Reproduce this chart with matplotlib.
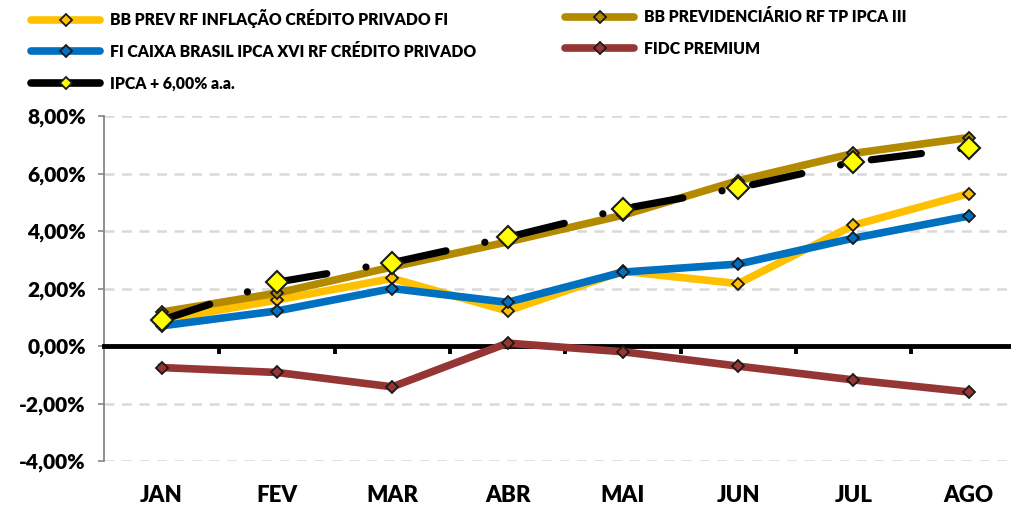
import numpy as np
import matplotlib.pyplot as plt
from matplotlib.lines import Line2D
from matplotlib.ticker import FuncFormatter

plt.rcParams['font.family'] = ['Lato', 'DejaVu Sans']
plt.rcParams['font.weight'] = 'heavy'

# data (% accumulated in the year)
months = ["JAN", "FEV", "MAR", "ABR", "MAI", "JUN", "JUL", "AGO"]
bb_prev_inflacao = [0.90, 1.60, 2.35, 1.22, 2.60, 2.17, 4.20, 5.30]
bb_previdenciario = [1.18, 1.84, 2.75, 3.62, 4.55, 5.75, 6.70, 7.25]
caixa_ipca_xvi = [0.70, 1.22, 2.00, 1.52, 2.57, 2.85, 3.75, 4.52]
fidc_premium = [-0.75, -0.92, -1.42, 0.10, -0.20, -0.70, -1.18, -1.60]
ipca_6 = [0.90, 2.22, 2.90, 3.78, 4.77, 5.50, 6.40, 6.90]

names = ["BB PREV RF INFLAÇÃO CRÉDITO PRIVADO FI",
         "BB PREVIDENCIÁRIO RF TP IPCA III",
         "FI CAIXA BRASIL IPCA XVI RF CRÉDITO PRIVADO",
         "FIDC PREMIUM",
         "IPCA + 6,00% a.a."]
colors = ["#FFC000", "#B38A00", "#0070C0", "#963634", "#000000"]

LW = 5.5     # series line width
MS = 6.2     # small diamond size
x = np.arange(len(months))

fig = plt.figure(figsize=(10.12, 5.07), dpi=100, facecolor='w')
ax = fig.add_axes([104/1012, 46/507, 1 - 104/1012, 345/507])

series = [bb_prev_inflacao, bb_previdenciario, caixa_ipca_xvi, fidc_premium]
for vals, col in zip(series, colors[:4]):
    ax.plot(x, vals, color=col, lw=LW, marker='D', ms=MS, mfc=col,
            mec='#1a1a1a', mew=1.3, solid_joinstyle='round', zorder=3)

# IPCA + 6% : long dash - dot
ax.plot(x, ipca_6, color='k', lw=5.2, ls=(0, (7.0, 5.5, 0.01, 4.3)),
        dash_capstyle='round', marker='D', ms=11.5, mfc='#FFFF00',
        mec='#1a1a1a', mew=1.5, zorder=4)

ax.set_xlim(-0.5, 7.375)
ax.set_ylim(-4, 8)
ax.set_yticks(np.arange(-4, 8.1, 2))
ax.yaxis.set_major_formatter(FuncFormatter(lambda v, p: ("%.2f%%" % v).replace('.', ',')))
ax.tick_params(axis='y', length=4, width=1.2, color='#868686', pad=9,
               labelsize=15, labelcolor='k')
ax.grid(axis='y', color='#d9d9d9', lw=1.8, ls=(0, (4, 3)), zorder=0)

for s in ['top', 'right']:
    ax.spines[s].set_visible(False)
ax.spines['left'].set_color('#868686')
ax.spines['left'].set_linewidth(1.3)
ax.spines['bottom'].set_position(('data', 0))
ax.spines['bottom'].set_linewidth(3.5)
ax.spines['bottom'].set_color('k')
ax.spines['bottom'].set_zorder(2.5)
ax.set_xticks(np.arange(0.5, len(months) - 1, 1))
ax.tick_params(axis='x', length=6, width=2.8, color='k', labelbottom=False)

for i, m in enumerate(months):
    ax.text(i, -0.10, m, transform=ax.get_xaxis_transform(), ha='center',
            va='center', fontsize=16, fontweight='heavy')

# legend (two columns, row-major as in the original)
def proxy(col, mfc, ms):
    return Line2D([], [], color=col, lw=LW, marker='D', ms=ms, mfc=mfc,
                  mec='#1a1a1a', mew=1.3, solid_capstyle='round')

h = [proxy(colors[0], colors[0], 6), proxy(colors[1], colors[1], 6),
     proxy(colors[2], colors[2], 6), proxy(colors[3], colors[3], 6),
     proxy('k', '#FFFF00', 6)]
kw = dict(loc='upper left', frameon=False, handlelength=4.4,
          handletextpad=0.65, labelspacing=1.0, borderpad=0, borderaxespad=0,
          prop=dict(family=['Lato', 'DejaVu Sans'], weight='heavy', size=11.3))
fig.legend([h[0], h[2], h[4]], [names[0], names[2], names[4]],
           bbox_to_anchor=(31/1012, 1 - 9/507), **kw)
fig.legend([h[1], h[3]], [names[1], names[3]],
           bbox_to_anchor=(565/1012, 1 - 9/507), **kw)

fig.savefig("out.png", dpi=100, facecolor='w')
